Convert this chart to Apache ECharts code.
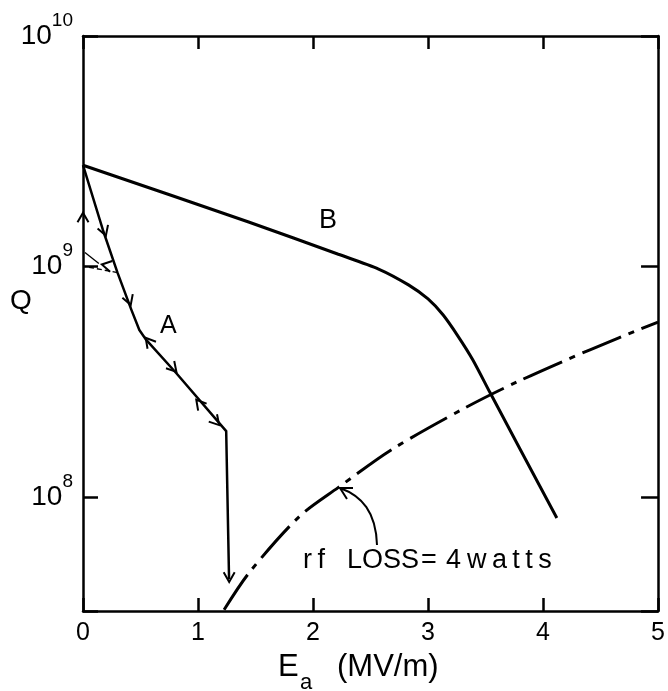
<!DOCTYPE html>
<html>
<head>
<meta charset="utf-8">
<script src="https://cdn.jsdelivr.net/npm/echarts@6/dist/echarts.min.js"></script>
<style>html,body{margin:0;padding:0;background:#fff}#c{width:668px;height:691px}</style>
</head>
<body>
<div id="c"></div>
<script>
// ---- data ----
const xTickLabels = ['0', '1', '2', '3', '4', '5'];
const yTickExponents = [8, 9, 10];

const curveB_E = [0, 1.44, 2.22, 2.57, 2.83, 3.00, 3.13, 3.26, 3.39, 3.54, 4.12];
const curveB_Q = [2.75e9, 1.56e9, 1.13e9, 9.75e8, 8.32e8, 7.23e8, 6.17e8, 4.99e8, 3.93e8, 2.83e8, 8.1e7];

const curveA_E = [0, 0.173, 0.30, 0.42, 0.49, 0.55, 0.81, 1.245, 1.27];
const curveA_Q = [2.75e9, 1.44e9, 9.4e8, 6.5e8, 5.3e8, 4.8e8, 3.45e8, 1.93e8, 4.4e7];

const returnA_E = [0.30, 0.017];
const returnA_Q = [9.4e8, 1.0e9];
const hookA_E = [0.017, 0.138];
const hookA_Q = [1.15e9, 1.03e9];

const rfLoss_E = [1.227, 1.443, 1.876, 2.221, 2.679, 3.319, 3.777, 4.408, 5.0];
const rfLoss_Q = [3.24e7, 4.68e7, 8.18e7, 1.10e8, 1.60e8, 2.43e8, 3.16e8, 4.35e8, 5.74e8];

// arrowheads along the hysteresis path: tip and a point behind it
const arrowTipE  = [0.199, 0.415, 0.545, 0.812, 0.985, 1.184, 1.271, 0, 0.164];
const arrowTipQ  = [1.36e9, 6.81e8, 4.90e8, 3.49e8, 2.64e8, 2.05e8, 4.28e7, 1.71e9, 1.02e9];
const arrowTailE = [0.147, 0.363, 0.631, 0.735, 1.072, 1.106, 1.271, 0, 0.268];
const arrowTailQ = [1.62e9, 8.07e8, 4.35e8, 3.86e8, 2.34e8, 2.27e8, 5.33e7, 1.37e9, 9.96e8];

const Q_MIN = 3.2e7, Q_MAX = 1e10;

// ---- chart ----
const FONT = 'Liberation Sans, Arial, sans-serif';
const zip = (a, b) => a.map((v, i) => [v, b[i]]);
const arrowData = arrowTipE.map((v, i) => [v, arrowTipQ[i], arrowTailE[i], arrowTailQ[i]]);

const chart = echarts.init(document.getElementById('c'), null, {renderer: 'canvas'});

const axisLine = {show: true, onZero: false, lineStyle: {color: '#000', width: 2.5}};
const xCommon = {type: 'value', min: 0, max: 5, interval: 1, splitLine: {show: false}, axisLine: axisLine};
const yCommon = {type: 'log', logBase: 10, min: Q_MIN, max: Q_MAX, splitLine: {show: false}, axisLine: axisLine, minorTick: {show: false}};

function yLabel(v) {
  const l = Math.log10(v), r = Math.round(l);
  if (Math.abs(l - r) > 1e-6 || yTickExponents.indexOf(r) < 0) return '';
  return '{b|10}{s|' + r + '}';
}

function arrowRender(params, api) {
  const tip = api.coord([api.value(0), api.value(1)]);
  const tail = api.coord([api.value(2), api.value(3)]);
  let dx = tip[0] - tail[0], dy = tip[1] - tail[1];
  const len = Math.sqrt(dx * dx + dy * dy) || 1;
  dx /= len; dy /= len;
  const L = 11, a = Math.PI / 6;
  const bx = -dx, by = -dy;
  const r1 = [bx * Math.cos(a) - by * Math.sin(a), bx * Math.sin(a) + by * Math.cos(a)];
  const r2 = [bx * Math.cos(-a) - by * Math.sin(-a), bx * Math.sin(-a) + by * Math.cos(-a)];
  return {
    type: 'polyline',
    shape: {points: [[tip[0] + r1[0] * L, tip[1] + r1[1] * L], tip, [tip[0] + r2[0] * L, tip[1] + r2[1] * L]]},
    style: {stroke: '#000', lineWidth: 2, fill: null}
  };
}

const option = {
  backgroundColor: '#fff',
  animation: false,
  grid: {left: 83, right: 7, top: 36, bottom: 80, containLabel: false},
  xAxis: [
    Object.assign({}, xCommon, {
      position: 'bottom',
      axisTick: {show: true, inside: true, length: 13, lineStyle: {color: '#000', width: 2.5}},
      axisLabel: {show: true, margin: 10, color: '#000', fontFamily: FONT, fontSize: 25,
        formatter: v => xTickLabels[Math.round(v)] || ''}
    }),
    Object.assign({}, xCommon, {
      position: 'top',
      axisTick: {show: true, inside: true, length: 13, lineStyle: {color: '#000', width: 2.5}},
      axisLabel: {show: false}
    })
  ],
  yAxis: [
    Object.assign({}, yCommon, {
      position: 'left',
      axisTick: {show: true, inside: true, length: 15, lineStyle: {color: '#000', width: 2.5}},
      axisLabel: {show: true, margin: 10, color: '#000', fontFamily: FONT, formatter: yLabel,
        showMinLabel: true, showMaxLabel: true,
        rich: {
          b: {fontSize: 28, lineHeight: 50, fontFamily: FONT, color: '#000'},
          s: {fontSize: 19, lineHeight: 14, verticalAlign: 'top', fontFamily: FONT, color: '#000'}
        }}
    }),
    Object.assign({}, yCommon, {
      position: 'right',
      axisTick: {show: true, inside: true, length: 17, lineStyle: {color: '#000', width: 2.5}},
      axisLabel: {show: false}
    })
  ],
  series: [
    {type: 'line', name: 'B', data: zip(curveB_E, curveB_Q), showSymbol: false, smooth: 0.25,
      lineStyle: {color: '#000', width: 3}, z: 3},
    {type: 'line', name: 'A', data: zip(curveA_E, curveA_Q), showSymbol: false, smooth: false,
      lineStyle: {color: '#000', width: 2.5, join: 'round'}, z: 3},
    {type: 'line', name: 'A return', data: zip(returnA_E, returnA_Q), showSymbol: false,
      lineStyle: {color: '#000', width: 1.3, type: [5, 3]}, z: 3},
    {type: 'line', name: 'A hook', data: zip(hookA_E, hookA_Q), showSymbol: false, smooth: 0.5,
      lineStyle: {color: '#000', width: 1.3}, z: 3},
    {type: 'line', name: 'rf loss', data: zip(rfLoss_E, rfLoss_Q), showSymbol: false, smooth: 0.3,
      lineStyle: {color: '#000', width: 3, type: [42, 8, 6, 8]}, z: 3},
    {type: 'custom', name: 'arrows', data: arrowData, renderItem: arrowRender,
      encode: {x: 0, y: 1}, clip: false, z: 4}
  ],
  graphic: [
    {type: 'text', left: 10, top: 287, style: {text: 'Q', fontSize: 28, fontFamily: FONT, fill: '#000'}},
    {type: 'text', left: 278, top: 652, style: {text: 'E', fontSize: 31, fontFamily: FONT, fill: '#000'}},
    {type: 'text', left: 300, top: 672, style: {text: 'a', fontSize: 22, fontFamily: FONT, fill: '#000'}},
    {type: 'text', left: 337, top: 652, style: {text: '(MV/m)', fontSize: 31, fontFamily: FONT, fill: '#000'}},
    {type: 'text', left: 319, top: 207, style: {text: 'B', fontSize: 27, fontFamily: FONT, fill: '#000'}},
    {type: 'text', left: 160, top: 314, style: {text: 'A', fontSize: 25, fontFamily: FONT, fill: '#000'}},
    {type: 'text', left: 303, top: 547, style: {text: 'r\u2009f', fontSize: 27, fontFamily: FONT, fill: '#000'}},
    {type: 'text', left: 347, top: 547, style: {text: 'LOSS', fontSize: 27, fontFamily: FONT, fill: '#000'}},
    {type: 'text', left: 421, top: 547, style: {text: '=', fontSize: 27, fontFamily: FONT, fill: '#000'}},
    {type: 'text', left: 446, top: 547, style: {text: '4', fontSize: 27, fontFamily: FONT, fill: '#000'}},
    {type: 'text', left: 467, top: 547, style: {text: 'w\u2009a\u2009t\u2009t\u2009s', fontSize: 27, fontFamily: FONT, fill: '#000'}},
    {type: 'bezierCurve', shape: {x1: 377, y1: 545, cpx1: 376, cpy1: 512, cpx2: 362, cpy2: 496, x2: 340, y2: 488},
      style: {stroke: '#000', lineWidth: 2, fill: null}},
    {type: 'polyline', shape: {points: [[353, 488], [340, 488], [347, 499]]},
      style: {stroke: '#000', lineWidth: 2, fill: null}}
  ]
};
chart.setOption(option);
</script>
</body>
</html>
